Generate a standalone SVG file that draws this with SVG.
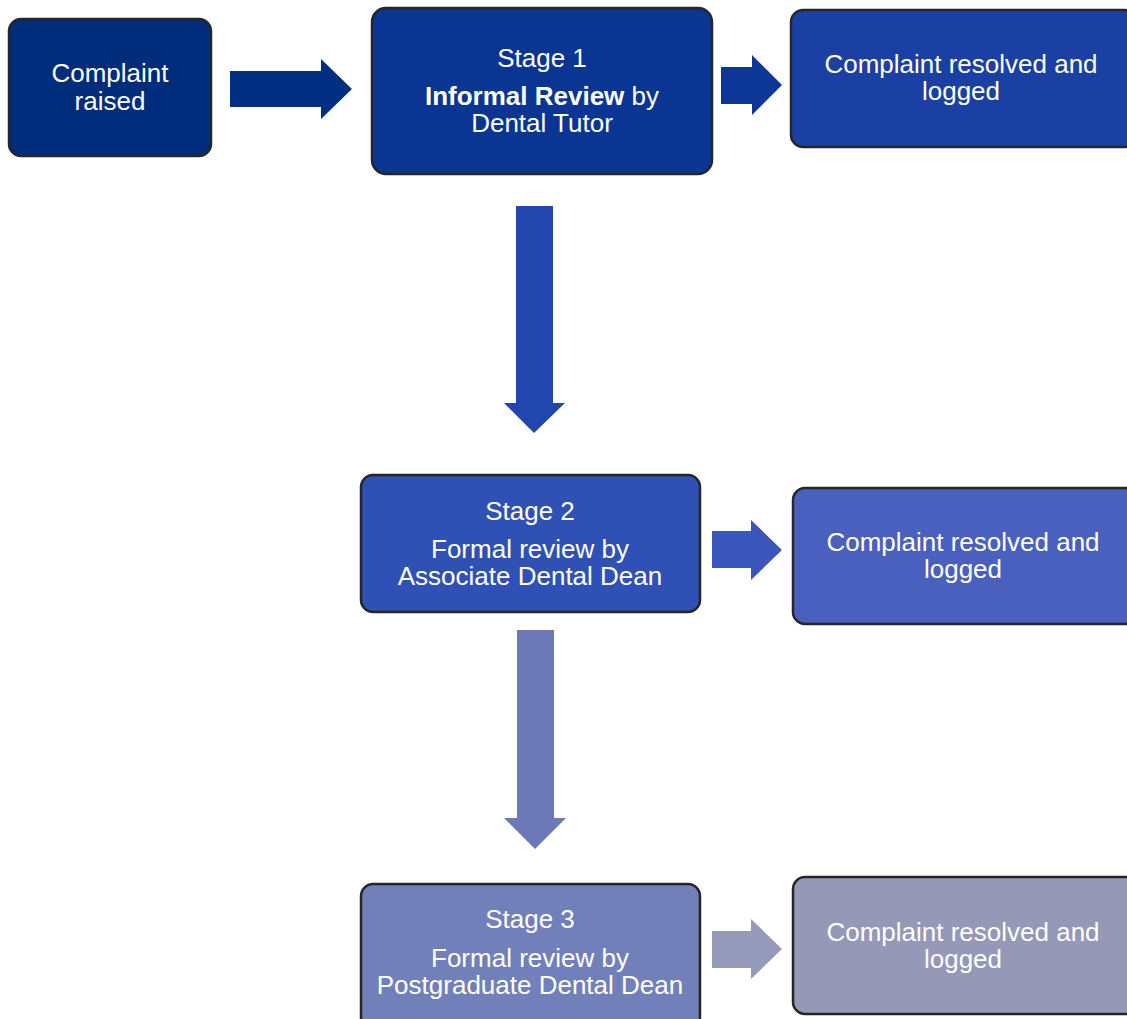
<svg xmlns="http://www.w3.org/2000/svg" width="1127" height="1019" viewBox="0 0 1127 1019">
<style>
.box{stroke:#262626;stroke-width:2.5}
.t{font-family:"Liberation Sans",Arial,sans-serif;font-size:26px;fill:#ffffff;text-anchor:middle}
.b{font-weight:bold}
</style>
<rect width="1127" height="1019" fill="#ffffff"/>
<g id="connectors">
<polygon fill="#002f82" points="230,71 321,71 321,59 352,89 321,119 321,107 230,107"/>
<polygon fill="#0c3797" points="721,67 752,67 752,55 782,85 752,115 752,104 721,104"/>
<polygon fill="#2146ae" points="516,206 553,206 553,403 565,403 534,433 504,403 516,403"/>
<polygon fill="#3a55bb" points="712,531 751,531 751,520 782,550 751,580 751,568 712,568"/>
<polygon fill="#6b79b8" points="517,630 554,630 554,818 566,818 535,849 504,818 517,818"/>
<polygon fill="#9599ba" points="712,931 751,931 751,919 782,949 751,979 751,968 712,968"/>
</g>
<g id="node-raised">
<rect class="box" x="9" y="19" width="202" height="137" rx="12" fill="#002c7c"/>
<text class="t" x="110" y="82">Complaint</text>
<text class="t" x="110" y="110">raised</text>
</g>
<g id="node-stage1">
<rect class="box" x="372" y="8" width="340" height="166" rx="14" fill="#0a3593"/>
<text class="t" x="542" y="67">Stage 1</text>
<text class="t" x="542" y="105"><tspan class="b">Informal Review</tspan> by</text>
<text class="t" x="542" y="132">Dental Tutor</text>
</g>
<g id="node-resolved1">
<rect class="box" x="791" y="10" width="345" height="137" rx="12" fill="#1b40a4"/>
<text class="t" x="961" y="73">Complaint resolved and</text>
<text class="t" x="961" y="100">logged</text>
</g>
<g id="node-stage2">
<rect class="box" x="361" y="475" width="339" height="137" rx="12" fill="#2f50b5"/>
<text class="t" x="530" y="520">Stage 2</text>
<text class="t" x="530" y="558">Formal review by</text>
<text class="t" x="530" y="585">Associate Dental Dean</text>
</g>
<g id="node-resolved2">
<rect class="box" x="793" y="488" width="345" height="136" rx="12" fill="#4a60bf"/>
<text class="t" x="963" y="551">Complaint resolved and</text>
<text class="t" x="963" y="578">logged</text>
</g>
<g id="node-stage3">
<rect class="box" x="361" y="884" width="339" height="145" rx="12" fill="#717fba"/>
<text class="t" x="530" y="928">Stage 3</text>
<text class="t" x="530" y="967">Formal review by</text>
<text class="t" x="530" y="994">Postgraduate Dental Dean</text>
</g>
<g id="node-resolved3">
<rect class="box" x="793" y="877" width="345" height="137" rx="12" fill="#9598b6"/>
<text class="t" x="963" y="941">Complaint resolved and</text>
<text class="t" x="963" y="968">logged</text>
</g>
</svg>
